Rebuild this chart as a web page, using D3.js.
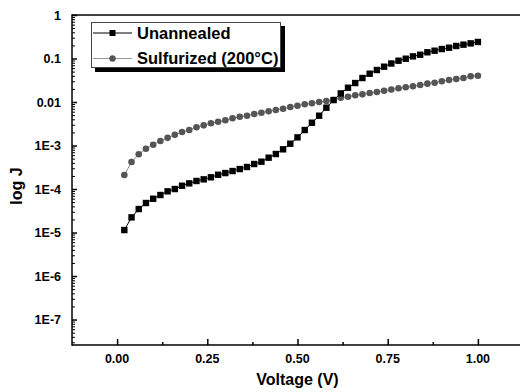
<!DOCTYPE html>
<html>
<head>
<meta charset="utf-8">
<script src="https://cdn.jsdelivr.net/npm/d3@7"></script>
<style>
  html, body { margin: 0; padding: 0; background: #fff; }
  svg { display: block; }
  text { font-family: "Liberation Sans", Arial, sans-serif; font-weight: bold; fill: #000; }
</style>
</head>
<body>
<svg id="chart" width="520" height="392"></svg>
<script>
// Bias voltage sweep (V)
const voltage = [
  0.02, 0.04, 0.06, 0.08, 0.10, 0.12, 0.14, 0.16, 0.18, 0.20,
  0.22, 0.24, 0.26, 0.28, 0.30, 0.32, 0.34, 0.36, 0.38, 0.40,
  0.42, 0.44, 0.46, 0.48, 0.50, 0.52, 0.54, 0.56, 0.58, 0.60,
  0.62, 0.64, 0.66, 0.68, 0.70, 0.72, 0.74, 0.76, 0.78, 0.80,
  0.82, 0.84, 0.86, 0.88, 0.90, 0.92, 0.94, 0.96, 0.98, 1.00
];

// Current density J, unannealed film
const unannealed = [
  1.14e-5, 2.23e-5, 3.47e-5, 4.77e-5, 5.98e-5, 7.28e-5, 8.85e-5, 1.00e-4, 1.19e-4, 1.35e-4,
  1.53e-4, 1.67e-4, 1.86e-4, 2.13e-4, 2.33e-4, 2.59e-4, 2.88e-4, 3.21e-4, 3.76e-4, 4.25e-4,
  5.25e-4, 6.38e-4, 8.18e-4, 1.10e-3, 1.54e-3, 2.27e-3, 3.34e-3, 4.84e-3, 7.40e-3, 1.11e-2,
  1.58e-2, 2.13e-2, 2.73e-2, 3.56e-2, 4.47e-2, 5.44e-2, 6.48e-2, 7.68e-2, 8.90e-2, 9.89e-2,
  0.112, 0.122, 0.139, 0.151, 0.165, 0.177, 0.194, 0.208, 0.223, 0.240
];

// Current density J, sulfurized at 200 °C
const sulfurized = [
  2.10e-4, 4.18e-4, 6.31e-4, 8.44e-4, 1.04e-3, 1.27e-3, 1.50e-3, 1.76e-3, 2.04e-3, 2.27e-3,
  2.62e-3, 2.91e-3, 3.24e-3, 3.51e-3, 3.80e-3, 4.22e-3, 4.59e-3, 4.84e-3, 5.30e-3, 5.68e-3,
  6.11e-3, 6.55e-3, 7.02e-3, 7.67e-3, 8.22e-3, 8.85e-3, 9.33e-3, 1.00e-2, 1.05e-2, 1.11e-2,
  1.26e-2, 1.32e-2, 1.43e-2, 1.50e-2, 1.61e-2, 1.70e-2, 1.82e-2, 1.94e-2, 2.07e-2, 2.18e-2,
  2.30e-2, 2.46e-2, 2.64e-2, 2.78e-2, 2.99e-2, 3.20e-2, 3.38e-2, 3.56e-2, 3.90e-2, 4.02e-2
];

const xTickValues = [0, 0.25, 0.5, 0.75, 1.0];
const xTickLabels = ["0.00", "0.25", "0.50", "0.75", "1.00"];
const yTickValues = [1, 0.1, 0.01, 1e-3, 1e-4, 1e-5, 1e-6, 1e-7];
const yTickLabels = ["1", "0.1", "0.01", "1E-3", "1E-4", "1E-5", "1E-6", "1E-7"];
const seriesNames = ["Unannealed", "Sulfurized (200\u00B0C)"];

const svg = d3.select("#chart");
const plotL = 72, plotR = 523, plotT = 15, plotB = 345;

const x = d3.scaleLinear().domain([-0.125, 1.125]).range([plotL, plotR]);
const y = d3.scaleLog().domain([2.6e-8, 1]).range([plotB, plotT]);

// frame: top border
svg.append("line").attr("x1", plotL).attr("x2", plotR).attr("y1", plotT).attr("y2", plotT)
  .attr("stroke", "#000").attr("stroke-width", 1.5);

// minor ticks on the log axis
const yMinor = [];
for (let e = -8; e <= -1; e++) for (let m = 2; m <= 9; m++) {
  const v = m * Math.pow(10, e);
  if (v >= 2.6e-8 && v < 1) yMinor.push(v);
}
const yMinorAxis = d3.axisRight(y).tickValues(yMinor).tickSize(3).tickFormat("");
svg.append("g").attr("transform", `translate(${plotL},0)`).call(yMinorAxis)
  .call(g => g.select(".domain").remove())
  .call(g => g.selectAll("line").attr("stroke-width", 1));

const yAxis = d3.axisRight(y).tickValues(yTickValues).tickSize(5).tickFormat("");
svg.append("g").attr("transform", `translate(${plotL},0)`).call(yAxis)
  .call(g => g.select(".domain").remove())
  .call(g => g.selectAll("line").attr("stroke-width", 1.5));

svg.selectAll(".ylab").data(yTickValues).join("text")
  .attr("class", "ylab")
  .attr("x", plotL - 11).attr("y", d => y(d))
  .attr("dy", "0.36em").attr("text-anchor", "end")
  .style("font-size", "12.5px")
  .text((d, i) => yTickLabels[i]);

const xMinorAxis = d3.axisTop(x).tickValues([0.125, 0.375, 0.625, 0.875]).tickSize(3).tickFormat("");
svg.append("g").attr("transform", `translate(0,${plotB})`).call(xMinorAxis)
  .call(g => g.select(".domain").remove())
  .call(g => g.selectAll("line").attr("stroke-width", 1.5));

const xAxis = d3.axisTop(x).tickValues(xTickValues).tickSize(6).tickFormat("");
svg.append("g").attr("transform", `translate(0,${plotB})`).call(xAxis)
  .call(g => g.select(".domain").remove())
  .call(g => g.selectAll("line").attr("stroke-width", 1.5));

svg.selectAll(".xlab").data(xTickValues).join("text")
  .attr("class", "xlab")
  .attr("x", d => x(d)).attr("y", plotB + 18)
  .attr("text-anchor", "middle")
  .style("font-size", "12.5px")
  .text((d, i) => xTickLabels[i]);

svg.append("line").attr("x1", plotL).attr("x2", plotL).attr("y1", plotT - 0.75).attr("y2", plotB + 0.75)
  .attr("stroke", "#000").attr("stroke-width", 1.5);
svg.append("line").attr("x1", plotL).attr("x2", plotR).attr("y1", plotB).attr("y2", plotB)
  .attr("stroke", "#000").attr("stroke-width", 1.5);

// axis titles
svg.append("text").attr("x", (plotL + plotR) / 2).attr("y", 385)
  .attr("text-anchor", "middle").style("font-size", "16px").text("Voltage (V)");
svg.append("text").attr("transform", `translate(22,186) rotate(-90)`)
  .attr("text-anchor", "middle").style("font-size", "16px").text("log J");

// curves
const line = d3.line().x(d => x(d[0])).y(d => y(d[1]));
const unData = voltage.map((v, i) => [v, unannealed[i]]);
const suData = voltage.map((v, i) => [v, sulfurized[i]]);

svg.append("path").datum(suData).attr("d", line)
  .attr("fill", "none").attr("stroke", "#888").attr("stroke-width", 1);
svg.selectAll(".su").data(suData).join("circle").attr("class", "su")
  .attr("cx", d => x(d[0])).attr("cy", d => y(d[1])).attr("r", 3.3)
  .attr("fill", "#555");

svg.append("path").datum(unData).attr("d", line)
  .attr("fill", "none").attr("stroke", "#000").attr("stroke-width", 1);
svg.selectAll(".un").data(unData).join("rect").attr("class", "un")
  .attr("x", d => x(d[0]) - 3.2).attr("y", d => y(d[1]) - 3.2)
  .attr("width", 6.4).attr("height", 6.4).attr("fill", "#000");

// legend with drop shadow
const lg = svg.append("g");
lg.append("rect").attr("x", 95).attr("y", 26).attr("width", 190).attr("height", 46).attr("fill", "#000");
lg.append("rect").attr("x", 91.5).attr("y", 22.5).attr("width", 189).attr("height", 45)
  .attr("fill", "#fff").attr("stroke", "#444").attr("stroke-width", 1);

const rows = [
  { name: seriesNames[0], yy: 33, stroke: "#000", fill: "#000", shape: "rect" },
  { name: seriesNames[1], yy: 58.5, stroke: "#999", fill: "#555", shape: "circle" }
];
rows.forEach(r => {
  lg.append("line").attr("x1", 93).attr("x2", 132).attr("y1", r.yy).attr("y2", r.yy)
    .attr("stroke", r.stroke).attr("stroke-width", 1);
  if (r.shape === "rect") {
    lg.append("rect").attr("x", 109.5).attr("y", r.yy - 3).attr("width", 6).attr("height", 6).attr("fill", r.fill);
  } else {
    lg.append("circle").attr("cx", 112.5).attr("cy", r.yy).attr("r", 3.2).attr("fill", r.fill);
  }
  lg.append("text").attr("x", 137).attr("y", r.yy).attr("dy", "0.36em")
    .style("font-size", "16.5px").text(r.name);
});
</script>
</body>
</html>
